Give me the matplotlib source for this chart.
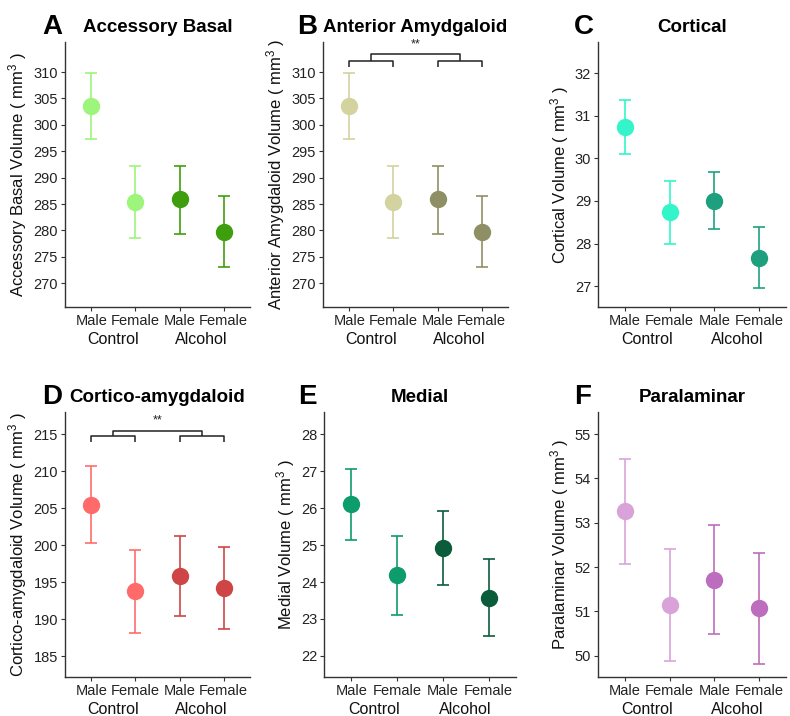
import matplotlib
matplotlib.use("Agg")
import matplotlib.pyplot as plt
import matplotlib.transforms as mtransforms
import numpy as np

plt.rcParams['font.family'] = ['Liberation Sans', 'DejaVu Sans']
plt.rcParams['mathtext.fontset'] = 'custom'
plt.rcParams['mathtext.rm'] = 'Liberation Sans'
plt.rcParams['mathtext.it'] = 'Liberation Sans:italic'

# ---- data ----
sex_labels = ["Male", "Female", "Male", "Female"]
group_labels = ["Control", "Alcohol"]
panel_letters = ["A", "B", "C", "D", "E", "F"]
titles = ["Accessory Basal", "Anterior Amydgaloid", "Cortical",
          "Cortico-amygdaloid", "Medial", "Paralaminar"]
ylabels = ["Accessory Basal Volume", "Anterior Amygdaloid Volume", "Cortical Volume",
           "Cortico-amygdaloid Volume", "Medial Volume", "Paralaminar Volume"]

acc_mean = [303.6, 285.4, 285.9, 279.8]
acc_lo = [297.3, 278.6, 279.4, 273.1]
acc_hi = [309.8, 292.2, 292.3, 286.5]

ant_mean = [303.6, 285.4, 285.9, 279.8]
ant_lo = [297.3, 278.6, 279.4, 273.1]
ant_hi = [309.8, 292.2, 292.3, 286.5]

cor_mean = [30.73, 28.74, 29.00, 27.67]
cor_lo = [30.10, 28.00, 28.33, 26.95]
cor_hi = [31.37, 29.47, 29.68, 28.38]

ca_mean = [205.5, 193.8, 195.9, 194.2]
ca_lo = [200.3, 188.2, 190.5, 188.7]
ca_hi = [210.7, 199.4, 201.2, 199.7]

med_mean = [26.12, 24.18, 24.92, 23.58]
med_lo = [25.15, 23.11, 23.92, 22.53]
med_hi = [27.07, 25.25, 25.93, 24.63]

par_mean = [53.27, 51.15, 51.72, 51.07]
par_lo = [52.07, 49.88, 50.49, 49.81]
par_hi = [54.45, 52.41, 52.94, 52.32]

yticks_list = [
    [270, 275, 280, 285, 290, 295, 300, 305, 310],
    [270, 275, 280, 285, 290, 295, 300, 305, 310],
    [27, 28, 29, 30, 31, 32],
    [185, 190, 195, 200, 205, 210, 215],
    [22, 23, 24, 25, 26, 27, 28],
    [50, 51, 52, 53, 54, 55],
]
ylims = [(265.5, 315.7), (265.5, 315.7), (26.51, 32.73),
         (182.2, 218.0), (21.43, 28.6), (49.52, 55.5)]

colors = [
    ("#9DF57C", "#3E9E0E"),
    ("#D3D3A0", "#8F8F66"),
    ("#33F5C9", "#1EA07F"),
    ("#FF6B6B", "#CF4545"),
    ("#0D9C6C", "#0B5C3B"),
    ("#D9A3D9", "#BD6DBD"),
]

# significance brackets: (leg bottom, inner level, top level, star y)
brackets = {1: (311.0, 312.1, 313.4, 315.2), 3: (214.0, 214.7, 215.5, 216.9)}

means = [acc_mean, ant_mean, cor_mean, ca_mean, med_mean, par_mean]
los = [acc_lo, ant_lo, cor_lo, ca_lo, med_lo, par_lo]
his = [acc_hi, ant_hi, cor_hi, ca_hi, med_hi, par_hi]

W, H = 790, 716
fig = plt.figure(figsize=(W / 100, H / 100), dpi=100)

# axes boxes in pixels: left, right, top, bottom
boxes = [
    (65, 250, 42, 307), (323, 508, 42, 307), (598, 786, 42, 307),
    (65, 250, 412, 677), (324, 516, 412, 677), (598, 786, 412, 677),
]
letter_x = [42, 297, 574, 42, 298, 574]

x = np.arange(1, 5)
for i in range(6):
    l, r, t, b = boxes[i]
    ax = fig.add_axes([l / W, 1 - b / H, (r - l) / W, (b - t) / H])
    m = np.array(means[i]); lo = np.array(los[i]); hi = np.array(his[i])
    for j in range(4):
        c = colors[i][0] if j < 2 else colors[i][1]
        ax.errorbar(x[j], m[j], yerr=[[m[j] - lo[j]], [hi[j] - m[j]]],
                    fmt='none', ecolor=c, elinewidth=1.4, capsize=4.5,
                    capthick=1.4, alpha=0.85, zorder=2)
        ax.plot(x[j], m[j], 'o', color=c, markersize=12.5, zorder=3,
                markeredgewidth=0)
    ax.set_xlim(0.4, 4.6)
    ax.set_ylim(*ylims[i])
    ax.set_yticks(yticks_list[i])
    ax.set_xticks(x)
    ax.set_xticklabels(sex_labels)
    for s in ['top', 'right']:
        ax.spines[s].set_visible(False)
    for s in ['left', 'bottom']:
        ax.spines[s].set_color('#333333')
        ax.spines[s].set_linewidth(1.0)
    ax.tick_params(axis='both', labelsize=10.5, colors='#333333', length=3,
                   width=0.8, labelcolor='#222222', pad=2)
    ax.set_ylabel(ylabels[i] + r" ( mm$^3$ )", fontsize=12, color='#111111',
                  labelpad=3)
    # group labels
    trans = mtransforms.blended_transform_factory(ax.transData, ax.transAxes)
    for g, gx in zip(group_labels, [1.5, 3.5]):
        ax.annotate(g, xy=(gx, 0), xycoords=trans, xytext=(0, -32),
                    textcoords='offset pixels', ha='center', va='center',
                    fontsize=11.5, color='#111111', annotation_clip=False)
    # title and panel letter
    ax.set_title(titles[i], fontsize=13.5, fontweight='bold', pad=7, color='black')
    fig.text(letter_x[i] / W, 1 - (t - 15) / H, panel_letters[i], fontsize=20,
             fontweight='bold', ha='left', va='center')
    if i in brackets:
        leg, inner, top, sy = brackets[i]
        kw = dict(color='#222222', lw=1.1, clip_on=False, solid_capstyle='butt')
        for (a, bb) in [(1, 2), (3, 4)]:
            ax.plot([a, a, bb, bb], [leg, inner, inner, leg], **kw)
        ax.plot([1.5, 1.5, 3.5, 3.5], [inner, top, top, inner], **kw)
        ax.text(2.5, sy, "**", ha='center', va='center', fontsize=9,
                color='#222222', clip_on=False)

fig.savefig("out.png", dpi=100, facecolor='white')
